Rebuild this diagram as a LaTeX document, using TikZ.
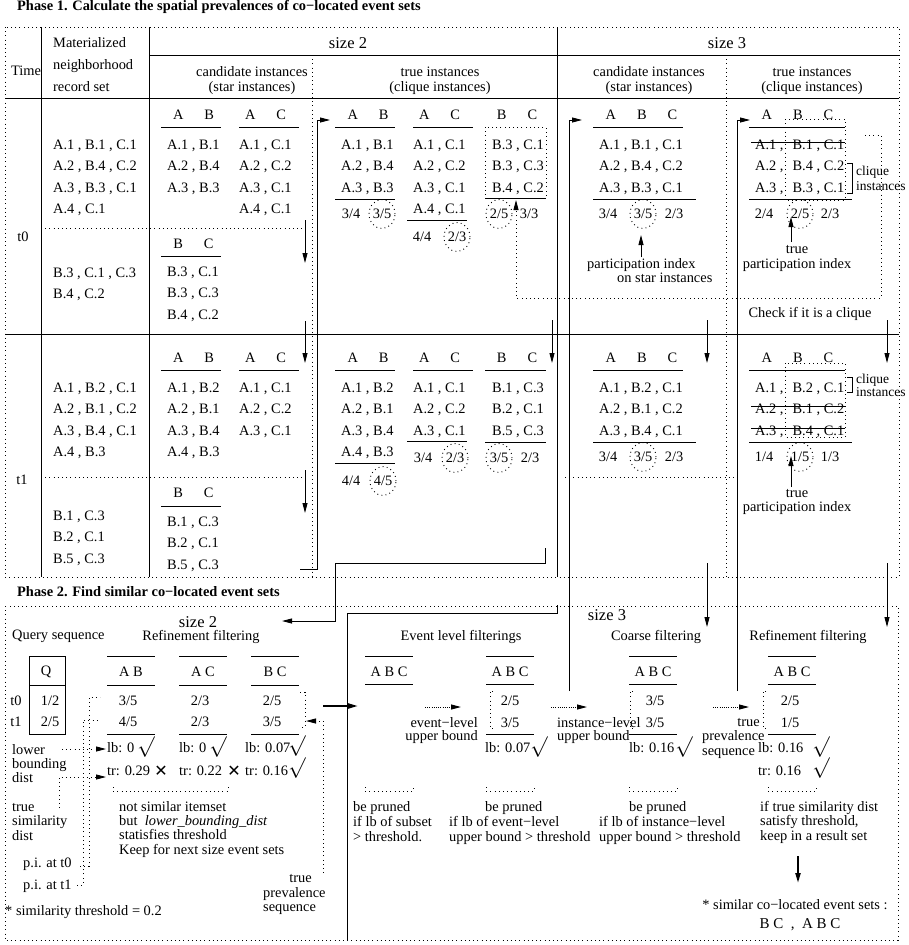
\documentclass[tikz,border=0pt]{standalone}
\usepackage{fontspec}
\setmainfont{Liberation Serif}
\newfontfamily\symfont{DejaVu Sans}
\usetikzlibrary{matrix}
\usetikzlibrary{positioning}
\usetikzlibrary{shapes.geometric}
\usetikzlibrary{arrows.meta}
\tikzset{>={Stealth[length=10pt,width=5pt,inset=0pt]}}
\tikzset{
  txt/.style={font=\fontsize{14.4}{15}\selectfont, inner sep=0pt},
  big/.style={font=\fontsize{16.5}{18}\selectfont, inner sep=0pt},
  ttl/.style={font=\bfseries\fontsize{14.4}{15}\selectfont, inner sep=0pt, anchor=mid west},
  recs/.style={matrix of nodes, anchor=north west, inner sep=0pt, row sep=7.5pt,
    nodes={txt, text height=10pt, text depth=4pt, anchor=base west}},
  ctr/.style={recs, anchor=north, nodes={anchor=base}},
  rgt/.style={recs, anchor=north east, nodes={anchor=base east}},
  rule/.style={line width=0.9pt},
  frm/.style={line width=0.9pt, dash pattern=on 0.9pt off 3.3pt},
  dense/.style={line width=1pt, dash pattern=on 1pt off 1.2pt},
  flow/.style={->, line width=0.9pt},
  thick flow/.style={->, line width=2pt},
  pidx/.style={txt, draw, frm, ellipse, minimum width=25pt, minimum height=29pt},
  ok/.style={inner sep=0pt, font=\fontsize{20}{20}\selectfont},
  no/.style={inner sep=0pt, font=\symfont\fontsize{16}{16}\selectfont},
  small/.style={nodes={font=\fontsize{13.5}{14}\selectfont}},
}
\begin{document}
\begin{tikzpicture}[x=1pt,y=-1pt]
\useasboundingbox (0,0) rectangle (908,945);

% ---------- Phase 1 ----------
\node[ttl] (ph1) at (17,8) {Phase 1. Calculate the spatial prevalences of co−located event sets};
\draw[frm] (5,27) rectangle (899,577);
\draw[rule] (41,27) -- (41,577);
\draw[rule] (149,27) -- (149,577);
\draw[rule] (557,27) -- (557,577);
\draw[rule] (149,55) -- (899,55);
\draw[rule] (5,98) -- (899,98);
\draw[rule] (5,334) -- (899,334);
\draw[frm] (312,55) -- (312,577);
\draw[frm] (726,55) -- (726,577);
\draw[frm] (41,228) -- (305,228);
\draw[frm] (41,477) -- (305,477);
\draw[frm] (565,477) -- (735,477);

\node[txt] (time) at (26,71) {Time};
\matrix (mrs) [recs, row sep=8pt] at (53,37) {Materialized\\ neighborhood\\ record set\\};
\node[big] (sz2) at (348,43) {size 2};
\node[big] (sz3) at (727,43) {size 3};
\matrix (hc2) [ctr, row sep=1pt] at (252,66) {candidate instances\\ (star instances)\\};
\matrix (ht2) [ctr, row sep=1pt] at (440,66) {true instances\\ (clique instances)\\};
\matrix (hc3) [ctr, row sep=1pt] at (649,66) {candidate instances\\ (star instances)\\};
\matrix (ht3) [ctr, row sep=1pt] at (812,66) {true instances\\ (clique instances)\\};
\node[txt] (t0) at (23,237) {t0};
\node[txt] (t1) at (22,480) {t1};

% materialized records
\matrix (m0a) [recs] at (53,139) {A.1 , B.1 , C.1\\ A.2 , B.4 , C.2\\ A.3 , B.3 , C.1\\ A.4 , C.1\\};
\matrix (m0b) [recs] at (53,267) {B.3 , C.1 , C.3\\ B.4 , C.2\\};
\matrix (m1a) [recs] at (53,382) {A.1 , B.2 , C.1\\ A.2 , B.1 , C.2\\ A.3 , B.4 , C.1\\ A.4 , B.3\\};
\matrix (m1b) [recs] at (53,510) {B.1 , C.3\\ B.2 , C.1\\ B.5 , C.3\\};

% size 2, candidate instances
\node[txt] (cab0) at (193.5,115) {A\hspace{21pt}B};
\draw[rule] (161,127) -- (221,127);
\matrix (sab0) [recs] at (167,139) {A.1 , B.1\\ A.2 , B.4\\ A.3 , B.3\\};
\node[txt] (cac0) at (265.5,115) {A\hspace{21pt}C};
\draw[rule] (239,127) -- (299,127);
\matrix (sac0) [recs] at (239,139) {A.1 , C.1\\ A.2 , C.2\\ A.3 , C.1\\ A.4 , C.1\\};
\node[txt] (cbc0) at (193.5,244) {B\hspace{21pt}C};
\draw[rule] (161,256) -- (221,256);
\matrix (sbc0) [recs] at (167,266) {B.3 , C.1\\ B.3 , C.3\\ B.4 , C.2\\};
\node[txt] (cab1) at (193.5,358) {A\hspace{21pt}B};
\draw[rule] (161,370) -- (221,370);
\matrix (sab1) [recs] at (167,382) {A.1 , B.2\\ A.2 , B.1\\ A.3 , B.4\\ A.4 , B.3\\};
\node[txt] (cac1) at (265.5,358) {A\hspace{21pt}C};
\draw[rule] (239,370) -- (299,370);
\matrix (sac1) [recs] at (239,382) {A.1 , C.1\\ A.2 , C.2\\ A.3 , C.1\\};
\node[txt] (cbc1) at (193.5,493) {B\hspace{21pt}C};
\draw[rule] (161,506) -- (221,506);
\matrix (sbc1) [recs] at (167,516) {B.1 , C.3\\ B.2 , C.1\\ B.5 , C.3\\};

% size 2, true instances
\node[txt] (tab0) at (368,115) {A\hspace{21pt}B};
\draw[rule] (335,127) -- (395,127);
\matrix (qab0) [recs] at (341,139) {A.1 , B.1\\ A.2 , B.4\\ A.3 , B.3\\};
\draw[rule] (335,199) -- (395,199);
\node[txt] (vab0a) at (351,214) {3/4};
\node[pidx] (vab0b) at (382,214) {3/5};
\node[txt] (tac0) at (439.5,115) {A\hspace{21pt}C};
\draw[rule] (413,127) -- (473,127);
\matrix (qac0) [recs] at (413,139) {A.1 , C.1\\ A.2 , C.2\\ A.3 , C.1\\ A.4 , C.1\\};
\draw[rule] (407,220) -- (467,220);
\node[txt] (vac0a) at (422,237) {4/4};
\node[pidx] (vac0b) at (457,237) {2/3};
\node[txt] (tbc0) at (517,115) {B\hspace{21pt}C};
\draw[frm] (485,127) rectangle (546,198);
\matrix (qbc0) [recs] at (492,139) {B.3 , C.1\\ B.3 , C.3\\ B.4 , C.2\\};
\draw[rule] (485,198) -- (546,198);
\node[pidx] (vbc0a) at (499,214) {2/5};
\node[txt] (vbc0b) at (529,214) {3/3};

\node[txt] (tab1) at (368,358) {A\hspace{21pt}B};
\draw[rule] (335,370) -- (395,370);
\matrix (qab1) [recs] at (341,382) {A.1 , B.2\\ A.2 , B.1\\ A.3 , B.4\\ A.4 , B.3\\};
\draw[rule] (335,463) -- (395,463);
\node[txt] (vab1a) at (351,481) {4/4};
\node[pidx] (vab1b) at (383,481) {4/5};
\node[txt] (tac1) at (439.5,358) {A\hspace{21pt}C};
\draw[rule] (413,370) -- (473,370);
\matrix (qac1) [recs] at (413,382) {A.1 , C.1\\ A.2 , C.2\\ A.3 , C.1\\};
\draw[rule] (407,441) -- (467,441);
\node[txt] (vac1a) at (423,458) {3/4};
\node[pidx] (vac1b) at (455,458) {2/3};
\node[txt] (tbc1) at (517,358) {B\hspace{21pt}C};
\draw[rule] (485,370) -- (546,370);
\matrix (qbc1) [recs] at (492,382) {B.1 , C.3\\ B.2 , C.1\\ B.5 , C.3\\};
\draw[rule] (485,442) -- (546,442);
\node[pidx] (vbc1a) at (499,458) {3/5};
\node[txt] (vbc1b) at (530,458) {2/3};

% size 3, candidate instances
\node[txt] (cabc0) at (641.5,115) {A\hspace{21pt}B\hspace{21pt}C};
\draw[rule] (593,127) -- (683,127);
\matrix (sabc0) [recs] at (599,139) {A.1 , B.1 , C.1\\ A.2 , B.4 , C.2\\ A.3 , B.3 , C.1\\};
\draw[rule] (593,199) -- (696,199);
\node[txt] (wa0) at (608,214) {3/4};
\node[pidx] (wb0) at (643,214) {3/5};
\node[txt] (wc0) at (674,214) {2/3};
\matrix (pis) [recs, row sep=0pt] at (587,258.5) {participation index\\ \hspace{30pt}on star instances\\};
\node[txt] (cabc1) at (641.5,358) {A\hspace{21pt}B\hspace{21pt}C};
\draw[rule] (593,370) -- (683,370);
\matrix (sabc1) [recs] at (599,382) {A.1 , B.2 , C.1\\ A.2 , B.1 , C.2\\ A.3 , B.4 , C.1\\};
\draw[rule] (593,442) -- (696,442);
\node[txt] (wa1) at (608,457) {3/4};
\node[pidx] (wb1) at (643,457) {3/5};
\node[txt] (wc1) at (674,457) {2/3};

% size 3, true instances
\node[txt] (tabc0) at (797.5,115) {A\hspace{21pt}B\hspace{21pt}C};
\draw[rule] (749,127) -- (845,127);
\draw[frm] (785,119) rectangle (845,200);
\matrix (tq0) [recs, ampersand replacement=\&, column sep=9pt] at (755,139)
  {A.1 , \& B.1 , C.1\\ A.2 , \& B.4 , C.2\\ A.3 , \& B.3 , C.1\\};
\draw[rule] ([xshift=-4pt,yshift=7pt]tq0-1-1.base west) -- ([xshift=1pt,yshift=7pt]tq0-1-2.base east);
\draw[rule] (847,163) -- (852,163) -- (852,193) -- (847,193);
\matrix (cq0) [recs, small, row sep=1pt] at (856,165.5) {clique\\ instances\\};
\draw[rule] (749,199) -- (852,199);
\node[txt] (ua0) at (764,214) {2/4};
\node[pidx] (ub0) at (800,214) {2/5};
\node[txt] (uc0) at (830,214) {2/3};
\matrix (tpi0) [ctr, row sep=1pt] at (797,243.5) {true\\ participation index\\};
\node[txt] (chk) at (810,314) {Check if it is a clique};

\node[txt] (tabc1) at (797.5,358) {A\hspace{21pt}B\hspace{21pt}C};
\draw[rule] (749,370) -- (845,370);
\draw[frm] (785,363) rectangle (845,437);
\matrix (tq1) [recs, ampersand replacement=\&, column sep=9pt] at (755,382)
  {A.1 , \& B.2 , C.1\\ A.2 , \& B.1 , C.2\\ A.3 , \& B.4 , C.1\\};
\draw[rule] ([xshift=-4pt,yshift=7pt]tq1-2-1.base west) -- ([xshift=1pt,yshift=7pt]tq1-2-2.base east);
\draw[rule] ([xshift=-4pt,yshift=7pt]tq1-3-1.base west) -- ([xshift=1pt,yshift=7pt]tq1-3-2.base east);
\draw[rule] (847,377) -- (852,377) -- (852,392) -- (847,392);
\matrix (cq1) [recs, small, row sep=-1pt] at (856,373.5) {clique\\ instances\\};
\draw[rule] (749,442) -- (852,442);
\node[txt] (ua1) at (764,457) {1/4};
\node[pidx] (ub1) at (800,457) {1/5};
\node[txt] (uc1) at (830,457) {1/3};
\matrix (tpi1) [ctr, row sep=0pt] at (797,487.5) {true\\ participation index\\};

% flow lines of phase 1
\coordinate (ca1) at (305,220); \coordinate (ca2) at (305,263);
\coordinate (cb1) at (305,321); \coordinate (cb2) at (305,363);
\coordinate (cc1) at (305,470); \coordinate (cc2) at (305,513);
\coordinate (cd1) at (300,569); \coordinate (cd2) at (317,120); \coordinate (cd3) at (330,120);
\coordinate (da1) at (552,320); \coordinate (da2) at (552,363);
\coordinate (db1) at (545,548); \coordinate (db2) at (335,563); \coordinate (db3) at (335,621); \coordinate (db4) at (282,621);
\coordinate (ea1) at (707,320); \coordinate (ea2) at (707,363);
\coordinate (eb1) at (707,563); \coordinate (eb2) at (707,627);
\coordinate (ec1) at (569,691); \coordinate (ec2) at (569,120); \coordinate (ec3) at (582,120);
\coordinate (fa1) at (887,320); \coordinate (fa2) at (887,363);
\coordinate (fb1) at (887,563); \coordinate (fb2) at (887,627);
\coordinate (fc1) at (737,691); \coordinate (fc2) at (737,120); \coordinate (fc3) at (750,120);
\coordinate (gb1) at (865,135); \coordinate (gb2) at (881,298); \coordinate (gb3) at (516,298); \coordinate (gb4) at (516,200);
\coordinate (pa1) at (641,257); \coordinate (pa2) at (641,235);
\coordinate (pb1) at (791,242); \coordinate (pb2) at (791,217);
\coordinate (pc1) at (791,487); \coordinate (pc2) at (791,456);

\draw[flow] (ca1) -- (ca2);
\draw[flow] (cb1) -- (cb2);
\draw[flow] (cc1) -- (cc2);
\draw[flow] (cd1) -| (cd2) -- (cd3);
\draw[flow] (da1) -- (da2);
\draw[flow] (db1) |- (db2) -- (db3) -- (db4);
\draw[flow] (ea1) -- (ea2);
\draw[flow] (eb1) -- (eb2);
\draw[flow] (ec1) -- (ec2) -- (ec3);
\draw[flow] (fa1) -- (fa2);
\draw[flow] (fb1) -- (fb2);
\draw[flow] (fc1) -- (fc2) -- (fc3);
\draw[frm,->] (gb1) -| (gb2) -- (gb3) -- (gb4);
\draw[flow] (pa1) -- (pa2);
\draw[flow] (pb1) -- (pb2);
\draw[flow] (pc1) -- (pc2);

% ---------- Phase 2 ----------
\node[ttl] (ph2) at (17,594) {Phase 2. Find similar co−located event sets};
\draw[frm] (5,606) rectangle (898,940);
\draw[rule] (557,605) -- (557,613) -- (347,613) -- (347,940);
\node[big] (sz2b) at (198,622) {size 2};
\node[big] (sz3b) at (607,615) {size 3};
\node[txt, anchor=mid west] (qs) at (12,637) {Query sequence};
\node[txt] (rf2) at (201,637) {Refinement filtering};

% query sequence
\draw[rule] (29,656) rectangle (65,734);
\draw[rule] (29,685) -- (65,685);
\node[txt] (qq) at (46,672) {Q};
\node[txt] (q0) at (50,701) {1/2};
\node[txt] (q1) at (50,722) {2/5};
\node[txt] (qt0) at (16,701) {t0};
\node[txt] (qt1) at (16,722) {t1};

% size 2 refinement
\foreach \xl in {107,179,251}{
  \draw[rule] (\xl,656) -- ++(48,0);
  \draw[rule] (\xl,685) -- ++(48,0);
  \draw[rule] (\xl,734) -- ++(48,0);
}
\node[txt] (rab) at (131,672) {A B};
\node[txt] (rab0) at (128,701) {3/5};
\node[txt] (rab1) at (128,722) {4/5};
\node[txt, anchor=mid west] (lab) at (107,750) {lb: 0};
\node[ok] (kab) at (146,747) {$\surd$};
\node[txt, anchor=mid west] (trab) at (107,773) {tr: 0.29};
\node[no] (xab) at (161,771) {✕};
\node[txt] (rac) at (203,672) {A C};
\node[txt] (rac0) at (200,701) {2/3};
\node[txt] (rac1) at (200,722) {2/3};
\node[txt, anchor=mid west] (lac) at (179,750) {lb: 0};
\node[ok] (kac) at (218,747) {$\surd$};
\node[txt, anchor=mid west] (trac) at (179,773) {tr: 0.22};
\node[no] (xac) at (234,771) {✕};
\node[txt] (rbc) at (275,672) {B C};
\node[txt] (rbc0) at (272,701) {2/5};
\node[txt] (rbc1) at (272,722) {3/5};
\node[txt, anchor=mid west] (lbc) at (245,750) {lb: 0.07};
\node[ok] (kbc) at (297,746) {$\surd$};
\node[txt, anchor=mid west] (trbc) at (245,773) {tr: 0.16};
\node[ok] (kbc2) at (297,768) {$\surd$};
\draw[frm] (300,692) -- (305,692) -- (305,727) -- (300,727);
\draw[frm] (113,787) -- (113,791) -- (228,791) -- (228,787);
\matrix (nsi) [recs, row sep=0.3pt] at (119,801)
  {not similar itemset\\ but\ \ \textit{lower\_bounding\_dist}\\ statisfies threshold\\ Keep for next size event sets\\};

% left labels
\matrix (lbd) [recs, row sep=0pt] at (12,744) {lower\\ bounding\\ dist\\};
\matrix (tsd) [recs, row sep=0.5pt] at (12,801) {true\\ similarity\\ dist\\};
\node[txt, anchor=mid west] (pi0) at (23,865) {p.i. at t0};
\node[txt, anchor=mid west] (pi1) at (23,887) {p.i. at t1};
\node[txt, anchor=mid west] (thr) at (5,913) {* similarity threshold = 0.2};
\node[txt, anchor=mid east] (tpv) at (312,880) {true};
\matrix (tpvs) [recs, row sep=0pt] at (263,887) {prevalence\\ sequence\\};

\coordinate (la1) at (62,749); \coordinate (la2) at (106,749);
\coordinate (ta1) at (59,808); \coordinate (ta2) at (59,777); \coordinate (ta3) at (106,777);
\coordinate (sa1) at (80,866); \coordinate (sa2) at (89,697); \coordinate (sa3) at (100,697);
\coordinate (sb1) at (77,885); \coordinate (sb2) at (83,720); \coordinate (sb3) at (100,720);
\coordinate (va1) at (323,873); \coordinate (va2) at (323,721); \coordinate (va3) at (306,721);
\coordinate (ha1) at (323,706); \coordinate (ha2) at (358,706);
\draw[frm,->] (la1) -- (la2);
\draw[frm,->] (ta1) -- (ta2) -- (ta3);
\draw[frm] (sa1) -| (sa2) -- (sa3);
\draw[frm] (sb1) -| (sb2) -- (sb3);
\draw[frm,->] (va1) -- (va2) -- (va3);
\draw[thick flow] (ha1) -- (ha2);

% size 3 filterings
\node[txt] (evf) at (461,637) {Event level filterings};
\node[txt] (cof) at (656,637) {Coarse filtering};
\node[txt] (rf3) at (808,637) {Refinement filtering};
\foreach \xl in {365,486,629,768}{
  \draw[rule] (\xl,656) -- ++(48,0);
  \draw[rule] (\xl,684) -- ++(48,0);
  \draw[frm] (\xl,787) -- (\xl,791) -- ++(48,0) -- ++(0,-4);
}
\foreach \xl in {486,629,768}{
  \draw[rule] (\xl,734) -- ++(48,0);
}
\node[txt] (e1) at (389,672) {A B C};
\node[txt] (e2) at (510,672) {A B C};
\node[txt] (e2a) at (510,701) {2/5};
\node[txt] (e2b) at (510,723) {3/5};
\node[txt, anchor=mid west] (e2l) at (485,750) {lb: 0.07};
\node[ok] (e2k) at (539,747) {$\surd$};
\draw[frm] (493,691) -- (490,691) -- (490,728) -- (493,728);
\node[txt] (e3) at (653,672) {A B C};
\node[txt] (e3a) at (655,701) {3/5};
\node[txt] (e3b) at (655,723) {3/5};
\node[txt, anchor=mid west] (e3l) at (629,750) {lb: 0.16};
\node[ok] (e3k) at (684,747) {$\surd$};
\draw[frm] (633,691) -- (630,691) -- (630,728) -- (633,728);
\node[txt] (e4) at (792,672) {A B C};
\node[txt] (e4a) at (790,701) {2/5};
\node[txt] (e4b) at (790,723) {1/5};
\node[txt, anchor=mid west] (e4l) at (758,750) {lb: 0.16};
\node[ok] (e4k) at (821,747) {$\surd$};
\node[txt, anchor=mid west] (e4t) at (758,773) {tr: 0.16};
\node[ok] (e4k2) at (821,768) {$\surd$};
\draw[frm] (766,691) -- (763,691) -- (763,728) -- (766,728);

\matrix (evl) [rgt, row sep=-1pt] at (478,717.5) {event−level\\ upper bound\\};
\matrix (inl) [recs, row sep=-1pt] at (557,717.5) {instance−level\\ upper bound\\};
\node[txt, anchor=mid east] (tru) at (760,724) {true};
\matrix (prs) [recs, row sep=0.5pt] at (702,730.5) {prevalence\\ sequence\\};

\coordinate (ka1) at (425,707); \coordinate (ka2) at (461,707);
\coordinate (kb1) at (551,707); \coordinate (kb2) at (587,707);
\coordinate (kc1) at (713,707); \coordinate (kc2) at (749,707);
\draw[dense,->] (ka1) -- (ka2);
\draw[dense,->] (kb1) -- (kb2);
\draw[dense,->] (kc1) -- (kc2);

\matrix (bp1) [recs, row sep=1pt] at (353,801) {be pruned\\ if lb of subset\\ > threshold.\\};
\matrix (bp2) [recs, row sep=1pt] at (449,801) {\hspace{36pt}be pruned\\ if lb of event−level\\ upper bound > threshold\\};
\matrix (bp3) [recs, row sep=1pt] at (599,801) {\hspace{30pt}be pruned\\ if lb of instance−level\\ upper bound > threshold\\};
\matrix (bp4) [recs, row sep=0.5pt] at (760,801) {if true similarity dist\\ satisfy threshold,\\ keep in a result set\\};

\coordinate (ra1) at (798,856); \coordinate (ra2) at (798,883);
\draw[thick flow] (ra1) -- (ra2);
\node[txt] (res) at (795,905) {* similar co−located event sets :};
\node[txt, font=\fontsize{15}{16}\selectfont] (resv) at (800,925) {B C\ \ ,\ \ A B C};
\end{tikzpicture}
\end{document}
